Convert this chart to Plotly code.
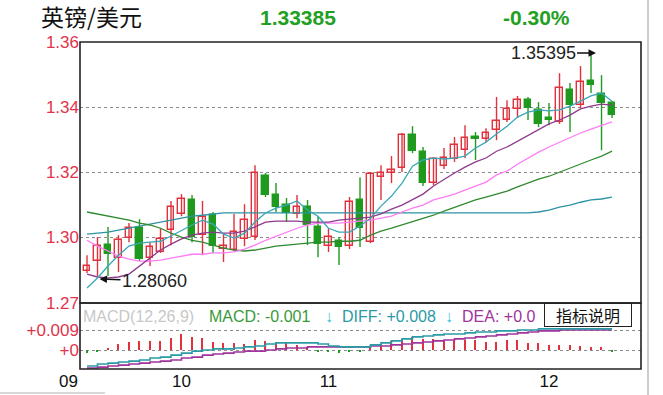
import plotly.graph_objects as go

# ---------------- data ----------------
idx = list(range(51))
month_ticks = [9, 23, 44]
month_labels = ["10", "11", "12"]

opens = [1.2895,1.2926,1.2975,1.2935,1.2997,1.3027,1.2935,1.2954,1.3021,1.3071,
 1.3114,1.3006,1.3067,1.2963,1.2960,1.2994,1.3000,1.3187,1.3129,1.3098,
 1.3071,1.3092,1.3031,1.2972,1.2987,1.2972,1.3114,1.2984,1.3184,1.3197,
 1.3212,1.3314,1.3261,1.3166,1.3218,1.3240,1.3267,1.3308,1.3301,1.3329,
 1.3360,1.3394,1.3421,1.3391,1.3366,1.3354,1.3452,1.3406,1.3480,1.3440,
 1.3412]
highs = [1.2944,1.3000,1.3031,1.3006,1.3043,1.3055,1.2984,1.3027,1.3111,1.3132,
 1.3129,1.3111,1.3077,1.3012,1.3071,1.3101,1.3221,1.3197,1.3166,1.3120,
 1.3129,1.3114,1.3064,1.3027,1.3000,1.3123,1.3184,1.3200,1.3221,1.3249,
 1.3320,1.3341,1.3277,1.3246,1.3274,1.3308,1.3344,1.3323,1.3335,1.3431,
 1.3421,1.3434,1.3431,1.3415,1.3412,1.3504,1.3474,1.3526,1.3566,1.3498,
 1.3418]
lows = [1.2889,1.2880,1.2880,1.2892,1.2984,1.2926,1.2911,1.2951,1.2975,1.3064,
 1.2984,1.2944,1.2951,1.2923,1.2957,1.2972,1.2991,1.3123,1.3077,1.3046,
 1.3058,1.2975,1.2938,1.2954,1.2914,1.2963,1.2969,1.2981,1.3114,1.3166,
 1.3200,1.3258,1.3157,1.3160,1.3209,1.3231,1.3243,1.3237,1.3292,1.3298,
 1.3354,1.3366,1.3360,1.3338,1.3344,1.3348,1.3323,1.3397,1.3443,1.3267,
 1.3366]
closes = [1.2911,1.2972,1.2947,1.2991,1.3027,1.2932,1.2969,1.2994,1.3092,1.3117,
 1.3000,1.3061,1.2972,1.2972,1.3015,1.3052,1.3197,1.3129,1.3092,1.3074,
 1.3092,1.3037,1.2978,1.3000,1.2969,1.3107,1.3027,1.3194,1.3197,1.3206,
 1.3314,1.3264,1.3166,1.3240,1.3243,1.3283,1.3304,1.3301,1.3320,1.3357,
 1.3394,1.3421,1.3397,1.3348,1.3360,1.3458,1.3406,1.3477,1.3468,1.3412,
 1.3375]

ma5 = [1.2843,1.2874,1.2911,1.2944,1.2972,1.2981,1.2984,1.2987,1.3003,1.3021,
 1.3037,1.3052,1.3040,1.3009,1.2997,1.3012,1.3046,1.3074,1.3089,1.3098,
 1.3111,1.3083,1.3064,1.3027,1.3015,1.3015,1.3034,1.3058,1.3095,1.3126,
 1.3166,1.3218,1.3237,1.3243,1.3240,1.3243,1.3249,1.3274,1.3292,1.3317,
 1.3341,1.3369,1.3384,1.3391,1.3388,1.3391,1.3403,1.3418,1.3434,1.3443,
 1.3418]
ma10 = [1.2886,1.2877,1.2874,1.2877,1.2886,1.2911,1.2935,1.2960,1.2978,1.2994,
 1.3006,1.3012,1.3015,1.3012,1.3012,1.3018,1.3031,1.3046,1.3049,1.3049,
 1.3049,1.3046,1.3046,1.3046,1.3052,1.3055,1.3058,1.3061,1.3071,1.3086,
 1.3098,1.3114,1.3132,1.3157,1.3178,1.3197,1.3215,1.3231,1.3243,1.3264,
 1.3277,1.3295,1.3314,1.3332,1.3348,1.3360,1.3375,1.3394,1.3403,1.3409,
 1.3406]
ma20 = [1.2990,1.2972,1.2957,1.2941,1.2932,1.2926,1.2926,1.2929,1.2935,1.2941,
 1.2947,1.2947,1.2951,1.2951,1.2954,1.2963,1.2975,1.2990,1.3003,1.3015,
 1.3027,1.3037,1.3043,1.3043,1.3043,1.3046,1.3049,1.3052,1.3058,1.3064,
 1.3077,1.3089,1.3098,1.3114,1.3123,1.3132,1.3144,1.3157,1.3169,1.3191,
 1.3203,1.3224,1.3243,1.3261,1.3277,1.3292,1.3307,1.3320,1.3332,1.3344,
 1.3354]
ma60 = [1.3077,1.3071,1.3064,1.3058,1.3052,1.3043,1.3037,1.3027,1.3012,1.3000,
 1.2990,1.2984,1.2975,1.2966,1.2960,1.2957,1.2960,1.2966,1.2972,1.2975,
 1.2978,1.2981,1.2984,1.2984,1.2987,1.2987,1.2990,1.3006,1.3018,1.3027,
 1.3037,1.3046,1.3055,1.3067,1.3080,1.3092,1.3104,1.3114,1.3123,1.3132,
 1.3141,1.3154,1.3166,1.3178,1.3187,1.3200,1.3212,1.3224,1.3237,1.3249,
 1.3264]
ma120 = [1.3009,1.3012,1.3015,1.3021,1.3027,1.3034,1.3040,1.3046,1.3052,1.3058,
 1.3064,1.3067,1.3071,1.3074,1.3074,1.3074,1.3074,1.3074,1.3074,1.3074,
 1.3074,1.3074,1.3074,1.3074,1.3074,1.3074,1.3074,1.3074,1.3074,1.3074,
 1.3074,1.3074,1.3074,1.3074,1.3074,1.3074,1.3074,1.3074,1.3074,1.3074,
 1.3074,1.3074,1.3074,1.3077,1.3083,1.3092,1.3098,1.3107,1.3114,1.3117,
 1.3123]

macd_hist = [-0.0013,-0.0005,0.0009,0.0027,0.0036,0.0040,0.0040,0.0040,0.0054,0.0072,
 0.0058,0.0054,0.0036,0.0031,0.0031,0.0027,0.0045,0.0040,0.0036,0.0031,
 0.0022,0.0013,-0.0005,-0.0005,-0.0013,-0.0005,-0.0005,0.0018,0.0027,0.0040,
 0.0050,0.0058,0.0050,0.0050,0.0045,0.0045,0.0045,0.0045,0.0036,0.0036,
 0.0045,0.0045,0.0031,0.0031,0.0022,0.0022,0.0022,0.0018,0.0013,0.0013,
 -0.0005]
diff = [-0.0072,-0.0063,-0.0059,-0.0054,-0.0050,-0.0045,-0.0036,-0.0032,-0.0023,-0.0014,
 -0.0005,0.0000,0.0005,0.0005,0.0009,0.0014,0.0018,0.0027,0.0032,0.0032,
 0.0032,0.0032,0.0027,0.0018,0.0014,0.0014,0.0014,0.0023,0.0032,0.0041,
 0.0050,0.0059,0.0063,0.0068,0.0072,0.0072,0.0077,0.0081,0.0081,0.0086,
 0.0086,0.0090,0.0090,0.0095,0.0095,0.0095,0.0095,0.0095,0.0095,0.0095,
 0.0095]
dea = [-0.0081,-0.0077,-0.0072,-0.0068,-0.0063,-0.0059,-0.0054,-0.0050,-0.0045,-0.0036,
 -0.0032,-0.0023,-0.0018,-0.0014,-0.0009,-0.0005,-0.0005,0.0000,0.0005,0.0009,
 0.0009,0.0014,0.0014,0.0014,0.0014,0.0014,0.0014,0.0018,0.0018,0.0023,
 0.0027,0.0032,0.0036,0.0041,0.0045,0.0050,0.0054,0.0059,0.0063,0.0068,
 0.0072,0.0077,0.0081,0.0086,0.0086,0.0090,0.0090,0.0090,0.0090,0.0090,
 0.0090]

price_ticks = [1.2797, 1.30, 1.32, 1.34, 1.36]
price_tick_text = ["1.27", "1.30", "1.32", "1.34", "1.36"]
macd_ticks = [0.0, 0.009]
macd_tick_text = ["+0", "+0.009"]

# ---------------- style ----------------
RED = "#e0313d"
GREEN = "#1f9a1f"
AXRED = "#e2334a"
FONT = "Liberation Sans, Arial, sans-serif"
W, H = 663, 395

fig = go.Figure()

# candles: wicks (scatter segments) under bodies (bars with base)
up = [c >= o for o, c in zip(opens, closes)]
for is_up, color in [(True, RED), (False, GREEN)]:
    wx, wy = [], []
    for i in idx:
        if up[i] == is_up:
            wx += [i, i, None]
            wy += [lows[i], highs[i], None]
    fig.add_trace(go.Scatter(x=wx, y=wy, mode="lines", line=dict(color=color, width=1.4),
                             hoverinfo="skip", showlegend=False, xaxis="x", yaxis="y"))
    bx = [i for i in idx if up[i] == is_up]
    base = [min(opens[i], closes[i]) for i in bx]
    height = [max(abs(closes[i] - opens[i]), 0.00006) for i in bx]
    fig.add_trace(go.Bar(x=bx, y=height, base=base, width=0.64,
                         marker=dict(color="white" if is_up else GREEN,
                                     line=dict(color=color, width=1.4)),
                         showlegend=False, xaxis="x", yaxis="y"))

for series, color, width in [(ma120, "#2b93a3", 1.3), (ma60, "#2f8a2f", 1.3),
                             (ma20, "#ff7cf5", 1.3), (ma10, "#8d3a8d", 1.3),
                             (ma5, "#3aa7b7", 1.3)]:
    fig.add_trace(go.Scatter(x=idx, y=series, mode="lines",
                             line=dict(color=color, width=width),
                             showlegend=False, xaxis="x", yaxis="y"))

fig.add_trace(go.Bar(x=idx, y=macd_hist, width=0.13,
                     marker=dict(color=[RED if v >= 0 else GREEN for v in macd_hist], line=dict(width=0)),
                     showlegend=False, xaxis="x", yaxis="y2"))
fig.add_trace(go.Scatter(x=idx, y=dea, mode="lines", line=dict(color="#a0349c", width=1.6, shape="hv"),
                         showlegend=False, xaxis="x", yaxis="y2"))
fig.add_trace(go.Scatter(x=idx, y=diff, mode="lines", line=dict(color="#2a9aa6", width=1.6, shape="hv"),
                         showlegend=False, xaxis="x", yaxis="y2"))

px_x = lambda p: p / W
px_y = lambda p: (H - p) / H

fig.update_layout(
    width=W, height=H, margin=dict(l=0, r=0, t=0, b=0, autoexpand=False),
    paper_bgcolor="white", plot_bgcolor="white",
    font=dict(family=FONT, size=16, color="black"),
    barmode="overlay", bargap=0,
    xaxis=dict(domain=[px_x(80), px_x(641)], range=[-0.667, 52.76], anchor="y2",
               tickvals=month_ticks, ticktext=month_labels, automargin=False,
               tickfont=dict(size=17, color="#111"), showgrid=False, zeroline=False,
               showline=False, ticks="", fixedrange=True),
    yaxis=dict(domain=[px_y(303), px_y(42)], range=[1.2797, 1.3600], anchor="x",
               tickvals=price_ticks, ticktext=price_tick_text, automargin=False,
               tickfont=dict(size=17, color=AXRED), showgrid=True, gridcolor="#8a8a8a",
               griddash="dot", gridwidth=1, zeroline=False, showline=False, ticks=""),
    yaxis2=dict(domain=[px_y(369), px_y(303)], range=[-0.00855, 0.02115], anchor="x",
                tickvals=macd_ticks, ticktext=macd_tick_text, automargin=False,
                tickfont=dict(size=17, color=AXRED), showgrid=True, gridcolor="#8a8a8a",
                griddash="dot", gridwidth=1, zeroline=False, showline=False, ticks=""),
)

shapes = [
    dict(type="rect", xref="x domain", yref="y domain", x0=0, x1=1, y0=0, y1=1,
         line=dict(color="#222", width=1.6), layer="above"),
    dict(type="rect", xref="x domain", yref="y2 domain", x0=0, x1=1, y0=0, y1=1,
         line=dict(color="#222", width=1.6), layer="above"),
    dict(type="line", xref="paper", yref="paper", x0=px_x(648), x1=px_x(648), y0=0, y1=1,
         line=dict(color="#9a9a9a", width=1)),
    dict(type="line", xref="paper", yref="paper", x0=0, x1=px_x(105), y0=px_y(393), y1=px_y(393),
         line=dict(color="#b0b0b0", width=1)),
]
fig.update_layout(shapes=shapes)

ann = []
# header
ann.append(dict(text="英镑/美元", xref="paper", yref="paper", x=px_x(39), y=px_y(16),
                xanchor="left", yanchor="middle", showarrow=False,
                font=dict(family="Noto Sans CJK SC", size=23, color="#111")))
ann.append(dict(text="<b>1.33385</b>", xref="paper", yref="paper", x=px_x(298), y=px_y(17),
                xanchor="center", yanchor="middle", showarrow=False,
                font=dict(size=21, color="#22a022")))
ann.append(dict(text="<b>-0.30%</b>", xref="paper", yref="paper", x=px_x(536), y=px_y(17),
                xanchor="center", yanchor="middle", showarrow=False,
                font=dict(size=21, color="#22a022")))
# month label before the first tick
ann.append(dict(text="09", xref="paper", yref="paper", x=px_x(68), y=px_y(381),
                xanchor="center", yanchor="middle", showarrow=False,
                font=dict(size=17, color="#111")))
# high / low markers
hi_i = highs.index(max(highs))
lo_i = lows.index(min(lows))
ann.append(dict(text="1.35395", x=hi_i, y=highs[hi_i], xref="x", yref="y", xshift=5,
                showarrow=True, ax=-53, ay=0, arrowhead=2, arrowsize=1, arrowwidth=1.5,
                arrowcolor="#111", font=dict(size=18, color="#222")))
ann.append(dict(text="1.28060", x=lo_i, y=lows[lo_i], xref="x", yref="y", xshift=2, yshift=-3,
                showarrow=True, ax=55, ay=2, arrowhead=2, arrowsize=1, arrowwidth=1.5,
                arrowcolor="#111", font=dict(size=18, color="#222")))
# MACD info row
info_y = px_y(316)
for txt, x, col in [("MACD(12,26,9)", 81, "#c8c8c8"), ("MACD: -0.001", 207, "#3a9a3a"),
                    ("↓", 323, "#36c0e0"), ("DIFF: +0.008", 340, "#2a9aa6"),
                    ("↓", 443, "#36c0e0"), ("DEA: +0.0", 460, "#a0349c")]:
    ann.append(dict(text=txt, xref="paper", yref="paper", x=px_x(x), y=info_y,
                    xanchor="left", yanchor="middle", showarrow=False,
                    font=dict(size=16, color=col)))
ann.append(dict(text="指标说明", xref="paper", yref="paper", x=px_x(588), y=px_y(315),
                xanchor="center", yanchor="middle", showarrow=False, width=84, height=20,
                bgcolor="white", bordercolor="#222", borderwidth=1, borderpad=1,
                font=dict(family="Noto Sans CJK SC", size=16, color="#111")))
fig.update_layout(annotations=ann)

fig.write_html("out.html", config={"displayModeBar": False},
               post_script="document.body.style.margin='0px';document.body.style.padding='0px';")
